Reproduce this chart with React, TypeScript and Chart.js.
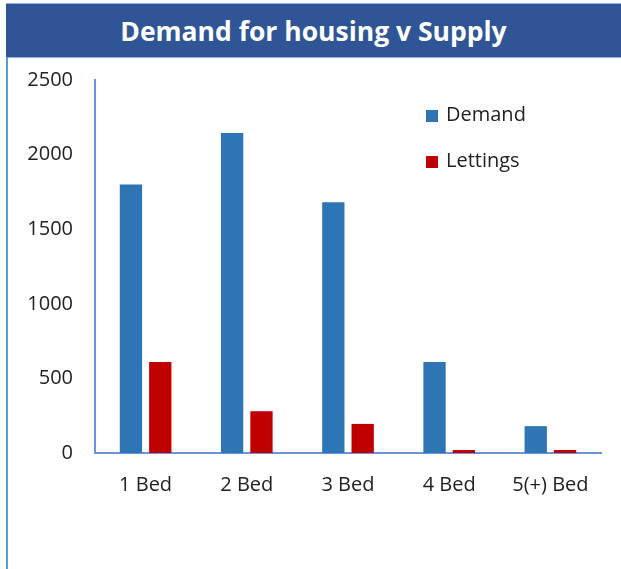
import React, { useEffect, useRef } from "react";
import { Chart, registerables } from "chart.js";

Chart.register(...registerables);

const TITLE = "Demand for housing v Supply";
const categories = ["1 Bed", "2 Bed", "3 Bed", "4 Bed", "5(+) Bed"];
const demand = [1800, 2145, 1680, 610, 180];
const lettings = [610, 280, 195, 20, 20];
const yTicks = [0, 500, 1000, 1500, 2000, 2500];
const seriesNames = ["Demand", "Lettings"];
const seriesColors = ["#2E75B6", "#C00000"];

const FONT = "'Open Sans', sans-serif";

const legendPlugin = {
  id: "insideLegend",
  afterDraw(chart: any) {
    const ctx = chart.ctx;
    const ys = [116 - 57, 162 - 57];
    ctx.save();
    ctx.font = `20px ${FONT}`;
    ctx.textBaseline = "middle";
    seriesNames.forEach((name, i) => {
      ctx.fillStyle = seriesColors[i];
      ctx.fillRect(426, ys[i] - 6, 12, 12);
      ctx.fillStyle = "#222";
      ctx.fillText(name, 446, ys[i] - 1);
    });
    ctx.restore();
  },
};

export default function App() {
  const ref = useRef<HTMLCanvasElement | null>(null);
  useEffect(() => {
    if (!ref.current) return;
    const chart = new Chart(ref.current, {
      type: "bar",
      data: {
        labels: categories,
        datasets: seriesNames.map((name, i) => ({
          label: name,
          data: i === 0 ? demand : lettings,
          backgroundColor: seriesColors[i],
          categoryPercentage: 0.58,
          barPercentage: 0.76,
        })),
      },
      options: {
        animation: false,
        responsive: false,
        maintainAspectRatio: false,
        layout: { padding: { top: 23, right: 20, left: 0, bottom: 0 } },
        plugins: { legend: { display: false }, title: { display: false }, tooltip: { enabled: false } },
        scales: {
          x: {
            grid: { display: false, drawTicks: false },
            border: { display: true, color: "#6A95D8", width: 2 },
            ticks: { color: "#222", font: { family: FONT, size: 20 }, padding: 20, maxRotation: 0 },
            afterFit(s: any) { s.height = 116; s.paddingLeft = 0; s.paddingRight = 0; },
          },
          y: {
            min: 0,
            max: 2500,
            afterBuildTicks(s: any) { s.ticks = yTicks.map((v) => ({ value: v })); },
            grid: { display: false, drawTicks: false },
            border: { display: true, color: "#6A95D8", width: 2 },
            ticks: { color: "#222", font: { family: FONT, size: 20 }, padding: 22, callback: (v: any) => String(v) },
            afterFit(s: any) { s.width = 95; s.paddingTop = 0; s.paddingBottom = 0; },
          },
        },
      },
      plugins: [legendPlugin],
    });
    return () => chart.destroy();
  }, []);

  return (
    <div style={{ position: "absolute", left: 0, top: 0, width: 621, height: 569, background: "#fff", overflow: "hidden" }}>
      <div
        style={{
          position: "absolute", left: 6, top: 3, width: 615, height: 53,
          background: "#2F5597", color: "#fff", fontFamily: FONT, fontWeight: 700,
          fontSize: 26.5, display: "flex", alignItems: "center", justifyContent: "center",
          borderBottom: "1px solid #8FB3E8", borderTop: "1px solid #8FB3E8",
        }}
      >
        {TITLE}
      </div>
      <div style={{ position: "absolute", left: 6, top: 57, width: 2, height: 512, background: "#5B9BD5" }} />
      <canvas ref={ref} width={621} height={512} style={{ position: "absolute", left: 0, top: 57, width: 621, height: 512 }} />
    </div>
  );
}
